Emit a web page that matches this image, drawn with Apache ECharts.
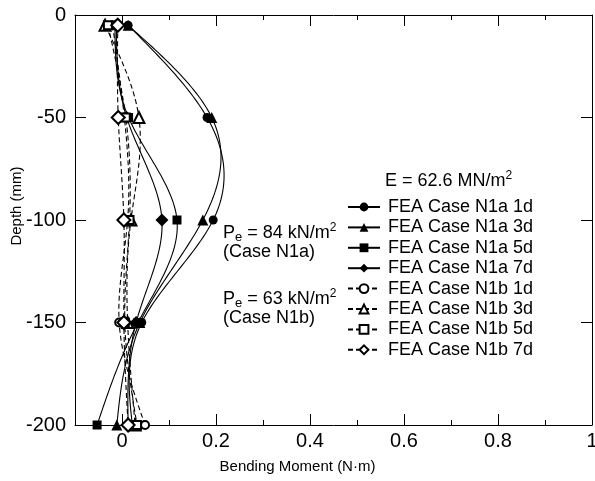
<!DOCTYPE html>
<html lang="en">
<head>
<meta charset="UTF-8">
<title>Bending moment vs depth</title>
<style>
  html, body { margin: 0; padding: 0; background: #fff; }
  #chart { width: 595px; height: 481px; }
</style>
</head>
<body>
<div id="chart"></div>
<script src="https://cdn.jsdelivr.net/npm/echarts@6/dist/echarts.min.js"></script>
<script>
// depths of the gauge points (mm)
var depths = [-5, -50, -100, -150, -200];

// case N1a (Pe = 84 kN/m2), solid lines
var n1a1d = [0.013, 0.181, 0.194, 0.042, 0.022];
var n1a3d = [0.013, 0.191, 0.172, 0.038, -0.011];
var n1a5d = [-0.015, 0.014, 0.117, 0.034, -0.053];
var n1a7d = [-0.012, 0.010, 0.085, 0.030, 0.013];

// case N1b (Pe = 63 kN/m2), dashed lines
var n1b1d = [-0.020, 0.005, 0.012, -0.006, 0.049];
var n1b3d = [-0.036, 0.036, 0.019, 0.012, 0.028];
var n1b5d = [-0.030, 0.008, 0.016, 0.006, 0.032];
var n1b7d = [-0.009, -0.008, 0.004, 0.004, 0.013];

var seriesNames = ['FEA Case N1a 1d', 'FEA Case N1a 3d', 'FEA Case N1a 5d', 'FEA Case N1a 7d',
                   'FEA Case N1b 1d', 'FEA Case N1b 3d', 'FEA Case N1b 5d', 'FEA Case N1b 7d'];

// tick labels
var xMajorTicks = [0, 0.2, 0.4, 0.6, 0.8, 1];
var xMinorTicks = [0.1, 0.3, 0.5, 0.7, 0.9];

var FONT = "'Liberation Sans', Arial, sans-serif";

function pairs(vals) {
  return vals.map(function (v, i) { return [v, depths[i]]; });
}

// natural cubic spline x(t) through pixel points, t = pixel y (ascending)
function splinePath(pts) {
  var n = pts.length;
  var t = pts.map(function (p) { return p[1]; });
  var v = pts.map(function (p) { return p[0]; });
  var h = [], M = new Array(n).fill(0);
  for (var i = 0; i < n - 1; i++) h.push(t[i + 1] - t[i]);
  // thomas solve for interior second derivatives
  var a = [], b = [], c = [], d = [];
  for (var i = 1; i < n - 1; i++) {
    a.push(h[i - 1]); b.push(2 * (h[i - 1] + h[i])); c.push(h[i]);
    d.push(6 * ((v[i + 1] - v[i]) / h[i] - (v[i] - v[i - 1]) / h[i - 1]));
  }
  var m = b.length;
  for (var i = 1; i < m; i++) {
    var w = a[i] / b[i - 1];
    b[i] -= w * c[i - 1];
    d[i] -= w * d[i - 1];
  }
  var sol = new Array(m);
  for (var i = m - 1; i >= 0; i--) {
    sol[i] = (d[i] - (i < m - 1 ? c[i] * sol[i + 1] : 0)) / b[i];
  }
  for (var i = 0; i < m; i++) M[i + 1] = sol[i];
  var out = [];
  for (var i = 0; i < n - 1; i++) {
    var steps = 30;
    for (var k = (i === 0 ? 0 : 1); k <= steps; k++) {
      var tt = t[i] + h[i] * k / steps;
      var A = (t[i + 1] - tt) / h[i], B = (tt - t[i]) / h[i];
      var x = A * v[i] + B * v[i + 1] +
        ((A * A * A - A) * M[i] + (B * B * B - B) * M[i + 1]) * h[i] * h[i] / 6;
      out.push([x, tt]);
    }
  }
  return out;
}

// markers (line hidden on the chart, kept for the legend icon)
function mk(name, vals, symbol, size, dashed) {
  return {
    name: name,
    type: 'line',
    data: pairs(vals),
    symbol: symbol,
    symbolSize: size,
    showSymbol: true,
    lineStyle: { color: '#000', width: 0, type: dashed ? [5, 3] : 'solid' },
    itemStyle: { color: '#000', borderColor: '#000', borderWidth: dashed ? 1 : 0 },
    emphasis: { disabled: true },
    z: dashed ? 4 : 3
  };
}

// smooth curve drawn through the same data with the axis scales
function curve(idx, vals, dashed) {
  return {
    name: 'curve' + idx,
    type: 'custom',
    data: pairs(vals),
    silent: true,
    z: 2,
    renderItem: function (params, api) {
      if (params.dataIndex !== 0) return null;
      var pts = vals.map(function (v, i) { return api.coord([v, depths[i]]); });
      return {
        type: 'polyline',
        shape: { points: splinePath(pts) },
        style: { fill: null, stroke: '#000', lineWidth: 1.1, lineDash: dashed ? [5, 3] : null }
      };
    }
  };
}

var chart = echarts.init(document.getElementById('chart'));

var supRich = {
  b: { fontSize: 18, fontFamily: FONT, color: '#000', lineHeight: 22 },
  s: { fontSize: 13, fontFamily: FONT, color: '#000', lineHeight: 10, verticalAlign: 'bottom' },
  p: { fontSize: 12, fontFamily: FONT, color: '#000', lineHeight: 16, verticalAlign: 'top' }
};

function note(x, y, text) {
  return { type: 'text', left: x, top: y, z: 10,
    style: { text: text, rich: supRich, font: '18px ' + FONT, fill: '#000' } };
}

var xBase = { type: 'value', min: -0.1, max: 1, interval: 0.1, splitLine: { show: false } };
var yBase = { type: 'value', min: -200, max: 0, interval: 50, splitLine: { show: false } };
var blackLine = { show: true, onZero: false, lineStyle: { color: '#000', width: 1 } };
var noLine = { show: false, onZero: false };

var options = {
  backgroundColor: '#fff',
  animation: false,
  grid: { left: 75, right: 3, top: 15, bottom: 56, containLabel: false, outerBoundsMode: 'none' },
  xAxis: [
    Object.assign({}, xBase, {
      position: 'bottom',
      name: 'Bending Moment (N\u00b7m)',
      nameLocation: 'middle',
      nameGap: 34,
      nameMoveOverlap: false,
      nameTextStyle: { fontSize: 15, fontFamily: FONT, color: '#000', padding: [0, 72, 0, 0] },
      axisLine: blackLine,
      axisTick: { inside: true, length: 11, customValues: xMajorTicks, lineStyle: { color: '#000' } },
      axisLabel: { customValues: xMajorTicks, fontSize: 20, fontFamily: FONT, color: '#000', margin: 6,
        formatter: function (v) { return String(v); } }
    }),
    Object.assign({}, xBase, {
      position: 'bottom',
      axisLine: noLine,
      axisTick: { inside: true, length: 5, customValues: xMinorTicks, lineStyle: { color: '#000' } },
      axisLabel: { show: false }
    }),
    Object.assign({}, xBase, {
      position: 'top',
      axisLine: blackLine,
      axisTick: { inside: true, length: 11, customValues: xMajorTicks, lineStyle: { color: '#000' } },
      axisLabel: { show: false }
    }),
    Object.assign({}, xBase, {
      position: 'top',
      axisLine: noLine,
      axisTick: { inside: true, length: 5, customValues: xMinorTicks, lineStyle: { color: '#000' } },
      axisLabel: { show: false }
    })
  ],
  yAxis: [
    Object.assign({}, yBase, {
      position: 'left',
      name: 'Depth (mm)',
      nameLocation: 'middle',
      nameGap: 51,
      nameMoveOverlap: false,
      nameTextStyle: { fontSize: 15, fontFamily: FONT, color: '#000', padding: [0, 0, 0, 28] },
      axisLine: blackLine,
      axisTick: { inside: true, length: 11, lineStyle: { color: '#000' } },
      axisLabel: { fontSize: 20, fontFamily: FONT, color: '#000', margin: 9 }
    }),
    Object.assign({}, yBase, {
      position: 'right',
      axisLine: blackLine,
      axisTick: { inside: true, length: 11, lineStyle: { color: '#000' } },
      axisLabel: { show: false }
    })
  ],
  legend: {
    orient: 'vertical',
    left: 342,
    top: 192,
    itemWidth: 32,
    itemHeight: 11,
    itemGap: 0.4,
    selectedMode: false,
    data: seriesNames,
    lineStyle: { width: 2 },
    textStyle: { fontSize: 18, fontFamily: FONT, color: '#000', lineHeight: 20, padding: [0, 0, 0, 3] }
  },
  graphic: [
    note(385, 170, '{b|E = 62.6 MN/m}{p|2}'),
    note(223, 222, '{b|P}{s|e}{b| = 84 kN/m}{p|2}'),
    note(223, 243, '{b|(Case N1a)}'),
    note(223, 288, '{b|P}{s|e}{b| = 63 kN/m}{p|2}'),
    note(223, 309, '{b|(Case N1b)}')
  ],
  series: [
    mk(seriesNames[0], n1a1d, 'circle', 9, false),
    mk(seriesNames[1], n1a3d, 'triangle', 11, false),
    mk(seriesNames[2], n1a5d, 'rect', 9, false),
    mk(seriesNames[3], n1a7d, 'diamond', 13, false),
    mk(seriesNames[4], n1b1d, 'emptyCircle', 8, true),
    mk(seriesNames[5], n1b3d, 'emptyTriangle', 11, true),
    mk(seriesNames[6], n1b5d, 'emptyRect', 8, true),
    mk(seriesNames[7], n1b7d, 'emptyDiamond', 13, true),
    curve(0, n1a1d, false),
    curve(1, n1a3d, false),
    curve(2, n1a5d, false),
    curve(3, n1a7d, false),
    curve(4, n1b1d, true),
    curve(5, n1b3d, true),
    curve(6, n1b5d, true),
    curve(7, n1b7d, true)
  ]
};

chart.setOption(options);
</script>
</body>
</html>
